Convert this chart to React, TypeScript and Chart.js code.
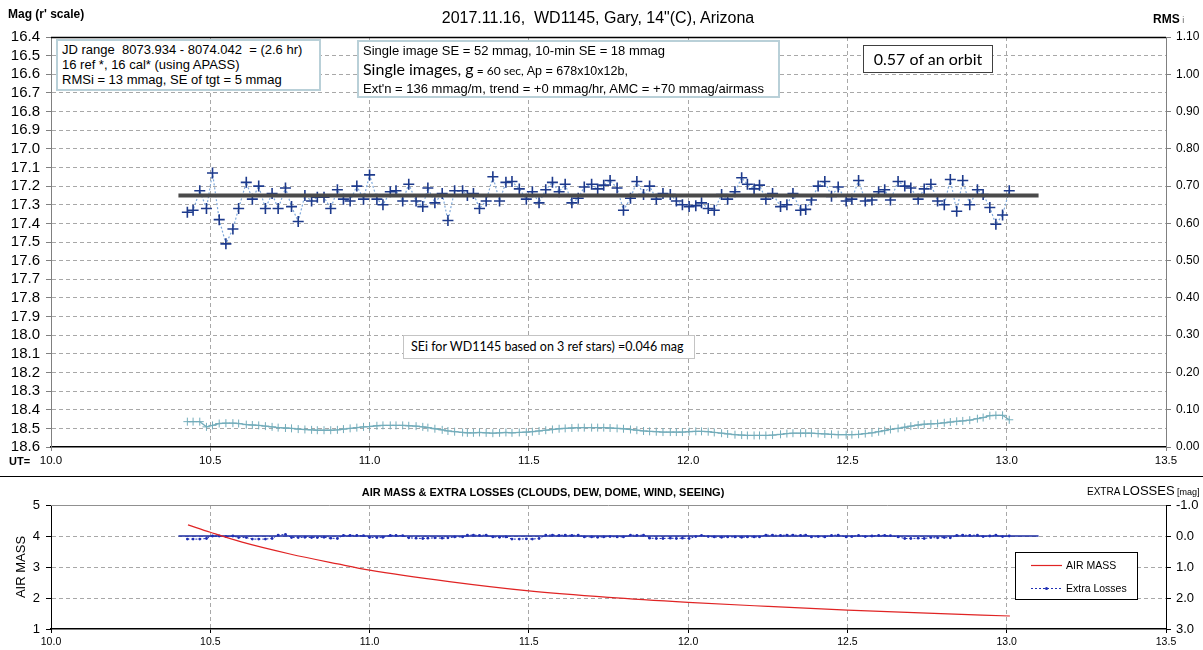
import React, { useEffect, useRef } from "react";
import { Chart, registerables } from "chart.js";
Chart.register(...registerables);

const FONT = "'Liberation Sans', Arial, sans-serif";
const CAL = "Lato, 'Open Sans', sans-serif";

// UT hours of each image
const utTimes = [
  10.428, 10.446, 10.467, 10.488, 10.507, 10.528, 10.549, 10.571, 10.589, 10.613,
  10.632, 10.652, 10.673, 10.694, 10.713, 10.736, 10.755, 10.776, 10.797, 10.818,
  10.836, 10.857, 10.878, 10.899, 10.918, 10.939, 10.96, 10.981, 11.0, 11.023,
  11.042, 11.065, 11.083, 11.104, 11.123, 11.146, 11.167, 11.183, 11.205, 11.228,
  11.246, 11.267, 11.292, 11.307, 11.326, 11.345, 11.366, 11.387, 11.408, 11.428,
  11.447, 11.47, 11.492, 11.511, 11.532, 11.553, 11.574, 11.595, 11.614, 11.635,
  11.655, 11.674, 11.697, 11.716, 11.735, 11.755, 11.777, 11.797, 11.819, 11.839,
  11.86, 11.879, 11.9, 11.921, 11.944, 11.963, 11.982, 12.003, 12.024, 12.042,
  12.063, 12.082, 12.105, 12.124, 12.147, 12.168, 12.186, 12.207, 12.224, 12.244,
  12.265, 12.29, 12.31, 12.329, 12.353, 12.369, 12.387, 12.408, 12.429, 12.45,
  12.471, 12.496, 12.514, 12.535, 12.556, 12.577, 12.598, 12.617, 12.635, 12.659,
  12.68, 12.699, 12.722, 12.741, 12.762, 12.783, 12.804, 12.823, 12.843, 12.862,
  12.884, 12.908, 12.926, 12.947, 12.966, 12.987, 13.008,
];

// WD1145 r' magnitudes
const magValues = [
  17.34, 17.33, 17.225, 17.32, 17.13, 17.38, 17.51, 17.43, 17.32, 17.18,
  17.27, 17.2, 17.32, 17.24, 17.32, 17.21, 17.31, 17.39, 17.25, 17.28,
  17.26, 17.26, 17.32, 17.22, 17.27, 17.28, 17.2, 17.27, 17.14, 17.27,
  17.3, 17.23, 17.225, 17.28, 17.19, 17.28, 17.31, 17.21, 17.29, 17.24,
  17.385, 17.225, 17.225, 17.25, 17.24, 17.32, 17.28, 17.15, 17.28, 17.18,
  17.175, 17.215, 17.27, 17.23, 17.29, 17.22, 17.18, 17.23, 17.19, 17.29,
  17.265, 17.205, 17.19, 17.215, 17.195, 17.17, 17.21, 17.33, 17.265, 17.175,
  17.245, 17.2, 17.27, 17.24, 17.245, 17.28, 17.3, 17.31, 17.305, 17.29,
  17.32, 17.33, 17.245, 17.27, 17.23, 17.155, 17.19, 17.215, 17.195, 17.27,
  17.24, 17.31, 17.3, 17.24, 17.33, 17.325, 17.275, 17.2, 17.175, 17.255,
  17.205, 17.28, 17.27, 17.17, 17.28, 17.275, 17.23, 17.22, 17.275, 17.175,
  17.2, 17.21, 17.27, 17.215, 17.19, 17.28, 17.3, 17.165, 17.335, 17.17,
  17.3, 17.22, 17.245, 17.315, 17.405, 17.355, 17.225,
];

// RMSi (right axis)
const rmsValues = [
  0.068, 0.068, 0.068, 0.054, 0.058, 0.063, 0.064, 0.064, 0.063, 0.06,
  0.059, 0.058, 0.056, 0.054, 0.052, 0.051, 0.05, 0.048, 0.047, 0.046,
  0.045, 0.045, 0.045, 0.046, 0.048, 0.05, 0.052, 0.054, 0.055, 0.057,
  0.058, 0.058, 0.058, 0.058, 0.057, 0.056, 0.054, 0.052, 0.049, 0.046,
  0.043, 0.041, 0.039, 0.038, 0.038, 0.039, 0.038, 0.037, 0.038, 0.039,
  0.038, 0.039, 0.04, 0.041, 0.043, 0.045, 0.047, 0.049, 0.05, 0.051,
  0.052, 0.052, 0.052, 0.052, 0.052, 0.051, 0.05, 0.049, 0.047, 0.045,
  0.043, 0.042, 0.041, 0.04, 0.04, 0.04, 0.04, 0.041, 0.042, 0.042,
  0.041, 0.039, 0.037, 0.035, 0.033, 0.032, 0.031, 0.031, 0.031, 0.031,
  0.032, 0.034, 0.036, 0.037, 0.037, 0.037, 0.037, 0.036, 0.035, 0.034,
  0.033, 0.033, 0.033, 0.034, 0.036, 0.038, 0.041, 0.044, 0.047, 0.05,
  0.053, 0.056, 0.059, 0.061, 0.062, 0.063, 0.065, 0.067, 0.069, 0.07,
  0.072, 0.076, 0.079, 0.084, 0.085, 0.085, 0.073,
];

// Extra losses [mag] (lower panel, right axis)
const extraLosses = [
  0.1, 0.1, 0.1, 0.08, 0.0, 0.0, 0.02, 0.0, 0.05, 0.05,
  0.1, 0.1, 0.1, 0.08, -0.03, -0.05, 0.05, 0.05, 0.04, 0.05,
  0.05, 0.04, 0.07, 0.08, -0.02, -0.02, -0.02, -0.01, 0.05, 0.05,
  0.04, -0.02, -0.02, -0.01, 0.06, 0.07, 0.08, 0.07, 0.06, 0.07,
  0.06, 0.03, 0.03, -0.03, -0.03, -0.02, -0.03, 0.03, 0.04, 0.03,
  0.1, 0.1, 0.09, 0.1, 0.08, -0.03, -0.03, -0.02, -0.03, -0.02,
  -0.03, 0.03, 0.03, 0.04, 0.03, 0.02, 0.03, 0.03, -0.03, -0.02,
  -0.03, 0.07, 0.08, 0.08, 0.07, 0.08, 0.07, 0.08, 0.02, -0.02,
  0.02, 0.03, 0.04, 0.03, 0.03, 0.04, 0.03, 0.03, 0.03, -0.03,
  -0.03, -0.02, -0.03, -0.03, -0.02, -0.03, 0.03, 0.02, 0.03, -0.02,
  -0.03, 0.03, 0.02, -0.02, 0.02, 0.0, -0.02, -0.02, -0.01, 0.03,
  0.08, 0.08, 0.07, 0.08, 0.05, 0.06, 0.05, 0.06, -0.02, -0.03,
  -0.02, -0.03, 0.02, 0.0, -0.03, 0.02, 0.0,
];

// Air mass (lower panel, left axis)
const airmassTimes = [10.43, 10.5, 10.6, 10.75, 10.9, 11.0, 11.25, 11.5, 11.75, 12.0, 12.25, 12.5, 12.75, 13.01];
const airmassValues = [4.36, 4.12, 3.8, 3.42, 3.1, 2.9, 2.53, 2.23, 2.02, 1.86, 1.73, 1.61, 1.51, 1.42];

// Mean-level line and zero-loss line
const trendTimes = [10.4, 13.1];
const trendMag = [17.25, 17.25];
const zeroLossTimes = [10.4, 13.1];
const zeroLossValues = [0, 0];

const near = (a: number, b: number) => Math.abs(a - b) < 1e-6;
const pts = (xs: number[], ys: number[]) => xs.map((x, i) => ({ x, y: ys[i] }));
const GRID = "#a8a8a8";
const CLEAR = "rgba(0,0,0,0)";

const topLinePlugin = {
  id: "topLine",
  afterDraw(chart: any) {
    const { ctx, chartArea } = chart;
    ctx.save();
    ctx.strokeStyle = "#000";
    ctx.lineWidth = 1.5;
    ctx.beginPath();
    ctx.moveTo(chartArea.left, chartArea.top + 0.5);
    ctx.lineTo(chartArea.right, chartArea.top + 0.5);
    ctx.stroke();
    ctx.restore();
  },
};

const lowerPlugin = {
  id: "lowerDecor",
  afterDraw(chart: any) {
    const { ctx, chartArea } = chart;
    ctx.save();
    ctx.strokeStyle = "#909090";
    ctx.lineWidth = 1;
    ctx.beginPath();
    ctx.moveTo(chartArea.left, chartArea.top + 0.5);
    ctx.lineTo(chartArea.right, chartArea.top + 0.5);
    ctx.stroke();
    // legend
    const ds = chart.data.datasets;
    const bx = 1015, by = 76, bw = 122, bh = 47;
    ctx.fillStyle = "#fff";
    ctx.fillRect(bx, by, bw, bh);
    ctx.strokeStyle = "#000";
    ctx.lineWidth = 1;
    ctx.strokeRect(bx + 0.5, by + 0.5, bw, bh);
    ctx.font = `10.5px ${FONT}`;
    ctx.textBaseline = "middle";
    ctx.strokeStyle = ds[0].borderColor;
    ctx.lineWidth = 1.2;
    ctx.beginPath();
    ctx.moveTo(1031, 89.5);
    ctx.lineTo(1062, 89.5);
    ctx.stroke();
    ctx.fillStyle = "#000";
    ctx.fillText(ds[0].label, 1066, 90);
    ctx.strokeStyle = ds[1].borderColor;
    ctx.lineWidth = 1;
    ctx.setLineDash([2, 2]);
    ctx.beginPath();
    ctx.moveTo(1031, 112.5);
    ctx.lineTo(1062, 112.5);
    ctx.stroke();
    ctx.setLineDash([]);
    ctx.fillStyle = ds[1].borderColor;
    ctx.beginPath();
    ctx.arc(1046.5, 112.5, 1.5, 0, Math.PI * 2);
    ctx.fill();
    ctx.fillStyle = "#000";
    ctx.fillText(ds[1].label, 1066, 113);
    ctx.restore();
  },
};

export default function App() {
  const topRef = useRef<HTMLCanvasElement>(null);
  const botRef = useRef<HTMLCanvasElement>(null);

  useEffect(() => {
    Chart.defaults.font.family = FONT;
    const top = new Chart(topRef.current as HTMLCanvasElement, {
      type: "scatter",
      data: {
        datasets: [
          {
            label: "mean",
            data: pts(trendTimes, trendMag),
            showLine: true,
            borderColor: "#4a4a4a",
            borderWidth: 4,
            pointRadius: 0,
            yAxisID: "y",
            order: 0,
          } as any,
          {
            label: "WD1145",
            data: pts(utTimes, magValues),
            showLine: true,
            borderColor: "#7ea8da",
            borderWidth: 1.2,
            borderDash: [2, 2],
            pointStyle: "cross",
            pointRadius: 5.5,
            pointBorderColor: "#1d3a8c",
            pointBackgroundColor: "#1d3a8c",
            pointBorderWidth: 1.6,
            yAxisID: "y",
            order: 1,
          },
          {
            label: "RMSi",
            data: pts(utTimes, rmsValues),
            showLine: true,
            borderColor: "#74adbb",
            borderWidth: 1.3,
            pointStyle: "cross",
            pointRadius: 4,
            pointBorderColor: "#74adbb",
            pointBorderWidth: 1,
            yAxisID: "y2",
            order: 2,
          },
        ],
      },
      options: {
        responsive: false,
        animation: false,
        layout: { padding: { top: 37, left: 0, right: 0, bottom: 0 } },
        plugins: { legend: { display: false }, tooltip: { enabled: false } },
        scales: {
          x: {
            type: "linear",
            min: 10,
            max: 13.5,
            afterFit: (s: any) => { s.height = 23; },
            ticks: {
              stepSize: 0.5, autoSkip: false, padding: 3, maxRotation: 0,
              font: { size: 11.5, family: FONT }, color: "#000",
              callback: (v: any) => Number(v).toFixed(1),
            },
            grid: {
              color: (c: any) => (c.tick && (near(c.tick.value, 10) || near(c.tick.value, 13.5)) ? CLEAR : GRID),
              lineWidth: 1, tickLength: 4, tickColor: "#808080",
            },
            border: { color: "#000", width: 1.5, dash: [4, 3] },
          },
          y: {
            type: "linear",
            position: "left",
            reverse: true,
            min: 16.4,
            max: 18.6,
            afterFit: (s: any) => { s.width = 51; },
            ticks: {
              stepSize: 0.1, autoSkip: false, padding: 6,
              font: { size: 15, family: FONT }, color: "#000",
              callback: (v: any) => Number(v).toFixed(1),
            },
            grid: {
              color: (c: any) => (c.tick && (near(c.tick.value, 16.4) || near(c.tick.value, 18.6)) ? CLEAR : GRID),
              lineWidth: 1, tickLength: 5, tickColor: "#808080",
            },
            border: { color: "#808080", width: 1, dash: [4, 3] },
          },
          y2: {
            type: "linear",
            position: "right",
            min: 0,
            max: 1.1,
            afterFit: (s: any) => { s.width = 37; },
            ticks: {
              stepSize: 0.1, autoSkip: false, padding: 5,
              font: { size: 12, family: FONT }, color: "#000",
              callback: (v: any) => Number(v).toFixed(2),
            },
            grid: { drawOnChartArea: false, tickLength: 5, tickColor: "#808080" },
            border: { color: "#808080", width: 1 },
          },
        },
      } as any,
      plugins: [topLinePlugin],
    });

    const bot = new Chart(botRef.current as HTMLCanvasElement, {
      type: "scatter",
      data: {
        datasets: [
          {
            label: "AIR MASS",
            data: pts(airmassTimes, airmassValues),
            showLine: true,
            borderColor: "#e02424",
            borderWidth: 1.2,
            pointRadius: 0,
            cubicInterpolationMode: "monotone",
            yAxisID: "y",
            order: 0,
          } as any,
          {
            label: "Extra Losses",
            data: pts(utTimes, extraLosses),
            showLine: true,
            borderColor: "#1f2fb5",
            borderWidth: 1,
            borderDash: [2, 2],
            pointRadius: 1.4,
            pointBackgroundColor: "#1f2fb5",
            pointBorderWidth: 0,
            yAxisID: "y2",
            order: 1,
          },
          {
            label: "zero",
            data: pts(zeroLossTimes, zeroLossValues),
            showLine: true,
            borderColor: "#1a2aa0",
            borderWidth: 1.5,
            pointRadius: 0,
            yAxisID: "y2",
            order: 2,
          },
        ],
      },
      options: {
        responsive: false,
        animation: false,
        layout: { padding: { top: 29, left: 0, right: 0, bottom: 0 } },
        plugins: { legend: { display: false }, tooltip: { enabled: false } },
        scales: {
          x: {
            type: "linear",
            min: 10,
            max: 13.5,
            afterFit: (s: any) => { s.height = 21; },
            ticks: {
              stepSize: 0.5, autoSkip: false, padding: 3, maxRotation: 0,
              font: { size: 10.5, family: FONT }, color: "#000",
              callback: (v: any) => Number(v).toFixed(1),
            },
            grid: {
              color: (c: any) => (c.tick && (near(c.tick.value, 10) || near(c.tick.value, 13.5)) ? CLEAR : GRID),
              lineWidth: 1, tickLength: 4, tickColor: "#000",
            },
            border: { color: "#000", width: 1.5, dash: [4, 3] },
          },
          y: {
            type: "linear",
            position: "left",
            min: 1,
            max: 5,
            afterFit: (s: any) => { s.width = 51; },
            ticks: {
              stepSize: 1, autoSkip: false, padding: 6,
              font: { size: 13, family: FONT }, color: "#000",
              callback: (v: any) => String(Math.round(Number(v))),
            },
            grid: {
              color: (c: any) => (c.tick && (near(c.tick.value, 1) || near(c.tick.value, 5)) ? CLEAR : GRID),
              lineWidth: 1, tickLength: 5, tickColor: "#000",
            },
            border: { color: "#000", width: 1, dash: [4, 3] },
          },
          y2: {
            type: "linear",
            position: "right",
            reverse: true,
            min: -1,
            max: 3,
            afterFit: (s: any) => { s.width = 37; },
            ticks: {
              stepSize: 1, autoSkip: false, padding: 5,
              font: { size: 13, family: FONT }, color: "#000",
              callback: (v: any) => Number(v).toFixed(1),
            },
            grid: { drawOnChartArea: false, tickLength: 5, tickColor: "#000" },
            border: { color: "#000", width: 1 },
          },
        },
      } as any,
      plugins: [lowerPlugin],
    });

    return () => {
      top.destroy();
      bot.destroy();
    };
  }, []);

  const boxBorder = "2px solid #b9d0d8";
  return (
    <div style={{ position: "absolute", left: 0, top: 0, width: 1203, height: 650, background: "#fff", overflow: "hidden", fontFamily: FONT, color: "#000" }}>
      <canvas ref={topRef} width={1203} height={470} style={{ position: "absolute", left: 0, top: 0, width: 1203, height: 470 }} />
      <canvas ref={botRef} width={1203} height={174} style={{ position: "absolute", left: 0, top: 476, width: 1203, height: 174 }} />

      <div style={{ position: "absolute", left: 0, top: 9, width: 1196, textAlign: "center", fontSize: 16, whiteSpace: "pre", lineHeight: "18px" }}>
        {'2017.11.16,  WD1145, Gary, 14"(C), Arizona'}
      </div>
      <div style={{ position: "absolute", left: 8, top: 7, fontSize: 12, fontWeight: "bold", whiteSpace: "pre" }}>Mag (r' scale)</div>
      <div style={{ position: "absolute", left: 1153, top: 9, whiteSpace: "pre" }}>
        <span style={{ fontSize: 12, fontWeight: "bold" }}>RMS</span>
        <span style={{ fontSize: 9, color: "#666" }}> i</span>
      </div>

      <div style={{ position: "absolute", left: 56, top: 39, width: 265, height: 52, boxSizing: "border-box", border: boxBorder, background: "#fff", padding: "1px 4px", fontSize: 13, lineHeight: "15px", whiteSpace: "pre" }}>
        <div>JD range  8073.934 - 8074.042  = (2.6 hr)</div>
        <div>16 ref *, 16 cal* (using APASS)</div>
        <div>RMSi = 13 mmag, SE of tgt = 5 mmag</div>
      </div>

      <div style={{ position: "absolute", left: 357, top: 40, width: 423, height: 58, boxSizing: "border-box", border: boxBorder, background: "#fff", padding: "0 4px", fontSize: 13, lineHeight: "18px", whiteSpace: "pre" }}>
        <div>Single image SE = 52 mmag, 10-min SE = 18 mmag</div>
        <div>
          <span style={{ fontFamily: CAL, fontSize: 16 }}>Single images, g</span>
          <span style={{ fontFamily: CAL, fontSize: 12 }}> = 60 sec, </span>
          <span style={{ fontSize: 12.5 }}>Ap = 678x10x12b,</span>
        </div>
        <div>Ext'n = 136 mmag/m, trend = +0 mmag/hr, AMC = +70 mmag/airmass</div>
      </div>

      <div style={{ position: "absolute", left: 863, top: 45, width: 130, height: 28, boxSizing: "border-box", border: "1.5px solid #404040", background: "#fff", fontFamily: CAL, fontSize: 16, lineHeight: "25px", textAlign: "center", whiteSpace: "pre" }}>
        0.57 of an orbit
      </div>

      <div style={{ position: "absolute", left: 403, top: 335, width: 292, height: 24, boxSizing: "border-box", border: "1px solid #c4c4c4", background: "#fff", fontFamily: CAL, fontSize: 12.5, lineHeight: "22px", paddingLeft: 7, whiteSpace: "pre" }}>
        SEi for WD1145 based on 3 ref stars) =0.046 mag
      </div>

      <div style={{ position: "absolute", left: 9, top: 455, fontSize: 11, fontWeight: "bold" }}>UT=</div>

      <div style={{ position: "absolute", left: 0, top: 476, width: 1203, height: 1, background: "#000" }} />

      <div style={{ position: "absolute", left: 0, top: 486, width: 1086, textAlign: "center", fontSize: 11, fontWeight: "bold", whiteSpace: "pre" }}>
        AIR MASS &amp; EXTRA LOSSES (CLOUDS, DEW, DOME, WIND, SEEING)
      </div>
      <div style={{ position: "absolute", left: 1087, top: 482, whiteSpace: "pre", lineHeight: "16px" }}>
        <span style={{ fontSize: 10 }}>EXTRA </span>
        <span style={{ fontSize: 13 }}>LOSSES</span>
        <span style={{ fontSize: 9 }}> [mag]</span>
      </div>
      <div style={{ position: "absolute", left: 20, top: 567, transform: "translate(-50%, -50%) rotate(-90deg)", fontSize: 13, whiteSpace: "nowrap" }}>
        AIR MASS
      </div>
    </div>
  );
}
